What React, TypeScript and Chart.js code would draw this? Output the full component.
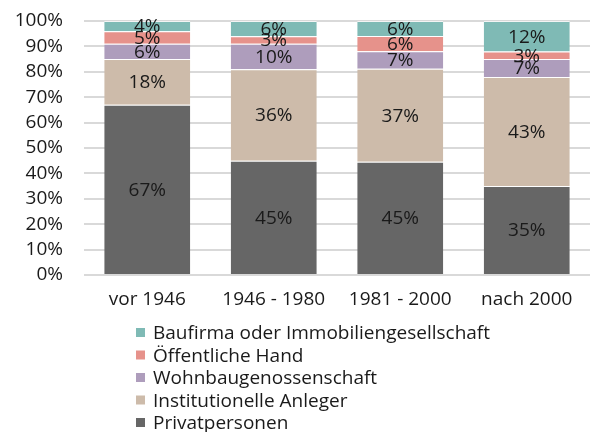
import React, { useEffect, useRef } from 'react';
import { Chart, registerables } from 'chart.js';

Chart.register(...registerables);

const categories = ['vor 1946', '1946 - 1980', '1981 - 2000', 'nach 2000'];
const privatpersonen = [67, 45, 45, 35];
const institutionelleAnleger = [18, 36, 37, 43];
const wohnbaugenossenschaft = [6, 10, 7, 7];
const oeffentlicheHand = [5, 3, 6, 3];
const baufirma = [4, 6, 6, 12];

const seriesNames = [
  'Privatpersonen',
  'Institutionelle Anleger',
  'Wohnbaugenossenschaft',
  'Öffentliche Hand',
  'Baufirma oder Immobiliengesellschaft',
];
const seriesValues = [privatpersonen, institutionelleAnleger, wohnbaugenossenschaft, oeffentlicheHand, baufirma];
const seriesColors = ['#666666', '#cdbbaa', '#ae9dbc', '#e6928b', '#7fbab5'];

const FONT = '"Open Sans", "Noto Sans", sans-serif';
const FS = 19;
const TEXT = '#1a1a1a';

const totals = categories.map((_, i) => seriesValues.reduce((s, arr) => s + arr[i], 0));

const valueLabels = {
  id: 'valueLabels',
  afterDatasetsDraw(chart: any) {
    const ctx = chart.ctx;
    ctx.save();
    ctx.font = `${FS}px ${FONT}`;
    ctx.fillStyle = TEXT;
    ctx.textAlign = 'center';
    ctx.textBaseline = 'middle';
    chart.data.datasets.forEach((ds: any, di: number) => {
      const meta = chart.getDatasetMeta(di);
      meta.data.forEach((el: any, i: number) => {
        const y = (el.y + el.base) / 2;
        ctx.fillText(ds.rawValues[i] + '%', el.x, y + 1);
      });
    });
    ctx.restore();
  },
};

const columnLegend = {
  id: 'columnLegend',
  afterDraw(chart: any) {
    const ctx = chart.ctx;
    ctx.save();
    ctx.font = `${FS}px ${FONT}`;
    ctx.textAlign = 'left';
    ctx.textBaseline = 'alphabetic';
    const n = chart.data.datasets.length;
    const boxX = 136;
    const top = 328;
    const step = 22.5;
    for (let k = 0; k < n; k++) {
      const di = n - 1 - k;
      const ds = chart.data.datasets[di];
      const y = top + k * step;
      ctx.fillStyle = ds.backgroundColor;
      ctx.fillRect(boxX, y, 9, 9);
      ctx.fillStyle = TEXT;
      ctx.fillText(ds.label, 153, y + 11);
    }
    ctx.restore();
  },
};

export default function App() {
  const ref = useRef<HTMLCanvasElement>(null);
  useEffect(() => {
    if (!ref.current) return;
    const chart = new Chart(ref.current, {
      type: 'bar',
      data: {
        labels: categories,
        datasets: seriesNames.map((name, si) => ({
          label: name,
          data: seriesValues[si].map((v, i) => (v / totals[i]) * 100),
          rawValues: seriesValues[si],
          backgroundColor: seriesColors[si],
          borderColor: 'rgba(255,255,255,0.7)',
          borderWidth: { top: 1, bottom: 0, left: 0, right: 0 },
          borderSkipped: false,
          categoryPercentage: 1,
          barPercentage: 0.68,
        })) as any,
      },
      options: {
        animation: false,
        responsive: false,
        maintainAspectRatio: false,
        layout: { padding: { top: 21, left: 0, right: 1, bottom: 117 } },
        plugins: {
          legend: { display: false },
          tooltip: { enabled: false },
        },
        scales: {
          x: {
            stacked: true,
            grid: { display: false, drawTicks: false },
            border: { display: false },
            ticks: { font: { family: FONT, size: FS }, color: TEXT, padding: 13 },
            afterFit(scale: any) { scale.height = 40; },
          },
          y: {
            stacked: true,
            min: 0,
            max: 100,
            grid: { color: '#d9d9d9', lineWidth: 2, drawTicks: true, tickLength: 21, tickColor: 'rgba(0,0,0,0)' },
            border: { display: false },
            ticks: {
              stepSize: 10,
              autoSkip: false,
              font: { family: FONT, size: FS },
              color: TEXT,
              padding: 0,
              callback: (v: any) => v + '%',
            },
            afterFit(scale: any) { scale.width = 84; },
          },
        },
      },
      plugins: [valueLabels, columnLegend],
    });
    return () => chart.destroy();
  }, []);
  return (
    <div style={{ position: 'fixed', left: 0, top: 0, width: 591, height: 432, background: '#fff' }}>
      <canvas ref={ref} width={591} height={432} style={{ width: 591, height: 432 }} />
    </div>
  );
}
